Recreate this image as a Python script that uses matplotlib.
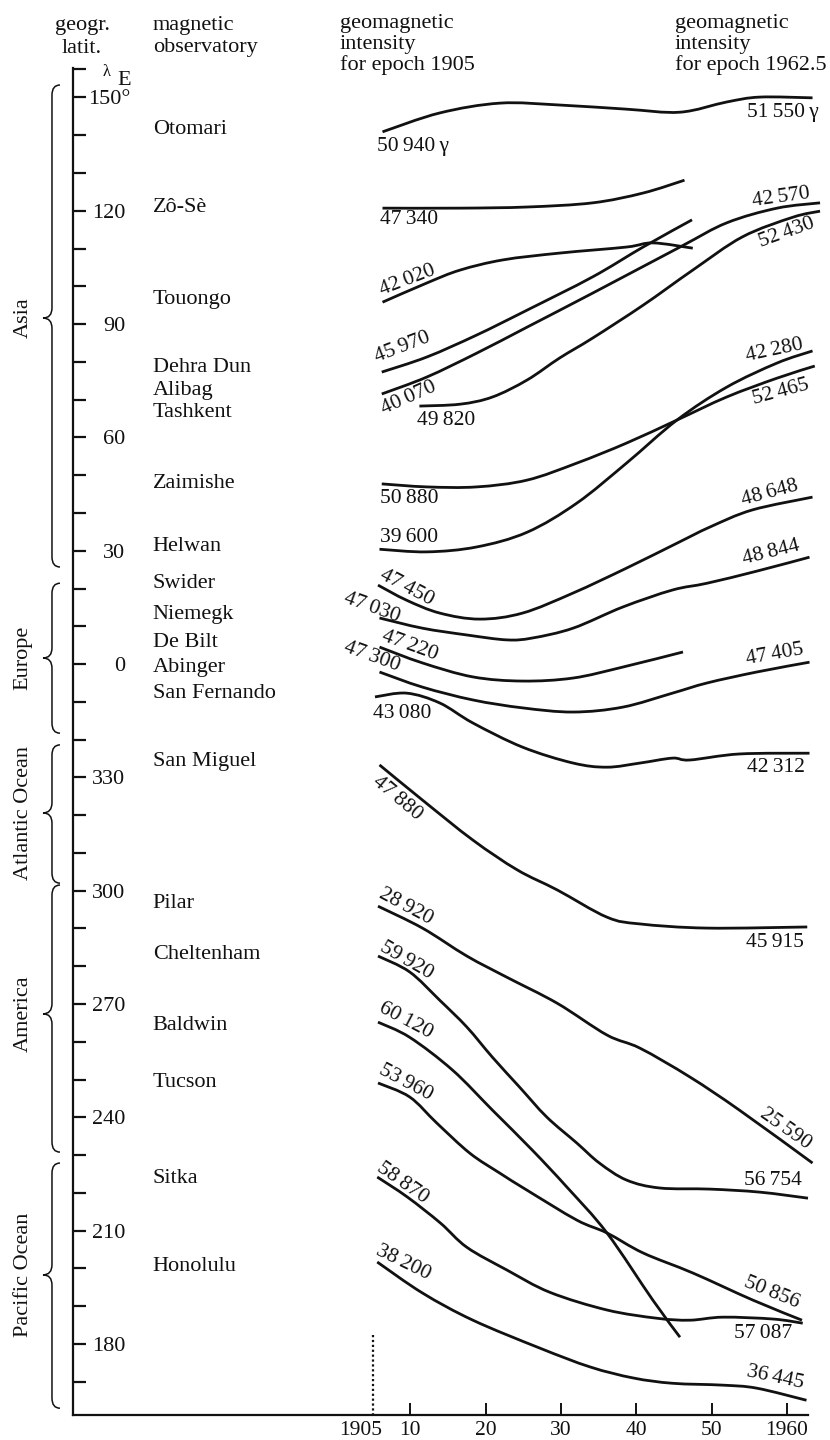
"""
Secular change of geomagnetic intensity 1905-1962.5 at magnetic observatories,
ordered by geographic longitude.
"""
import numpy as np
import matplotlib
matplotlib.use("Agg")
import matplotlib.pyplot as plt
from matplotlib.path import Path
from matplotlib.patches import PathPatch
from matplotlib import transforms

plt.rcParams['font.family'] = ['Liberation Serif', 'DejaVu Serif']

# observatories, top to bottom, and where their names sit on the longitude scale
names = ['Otomari', 'Zô-Sè', 'Touongo', 'Dehra Dun', 'Alibag', 'Tashkent',
         'Zaimishe', 'Helwan', 'Swider', 'Niemegk', 'De Bilt', 'Abinger',
         'San Fernando', 'San Miguel', 'Pilar', 'Cheltenham', 'Baldwin',
         'Tucson', 'Sitka', 'Honolulu']
name_pos = [141.4, 121.0, 96.4, 78.6, 72.5, 66.5, 47.9, 31.0, 21.4, 13.0,
            5.6, -0.8, -7.7, -25.9, -63.3, -77.0, -95.6, -110.9, -136.1, -159.6]

# intensity (gamma) for epoch 1905 and 1962.5 (None = series stops earlier)
start_vals = [50940, 47340, 42020, 45970, 40070, 49820, 50880, 39600, 47450, 47030,
              47220, 47300, 43080, 47880, 28920, 59920, 60120, 53960, 58870, 38200]
end_vals = [51550, None, None, None, 42570, 52430, 52465, 42280, 48648, 48844,
            None, 47405, 42312, 45915, 25590, 56754, None, 50856, 57087, 36445]

# curves: year vs. position on the longitude scale (0 = Greenwich, 330 E = -30)
otomari_yr = [1906.3, 1913.9, 1921.9, 1929.8, 1938.7, 1945.8, 1952.0, 1956.4, 1963.4]
otomari_pos = [140.9, 145.9, 148.5, 148.0, 146.9, 146.1, 148.8, 150.1, 149.9]
zose_yr = [1906.3, 1916.6, 1925.5, 1934.2, 1940.9, 1946.4]
zose_pos = [120.7, 120.7, 121.0, 122.1, 124.7, 128.1]
touongo_yr = [1906.3, 1912.2, 1916.6, 1922.3, 1929.8, 1938.7, 1942.2, 1947.5]
touongo_pos = [95.8, 100.9, 104.3, 107.0, 108.8, 110.4, 111.5, 110.1]
dehradun_yr = [1906.2, 1912.2, 1918.8, 1925.5, 1934.2, 1940.9, 1947.4]
dehradun_pos = [77.3, 81.3, 87.1, 93.7, 102.5, 110.4, 117.6]
alibag_yr = [1906.2, 1912.2, 1918.8, 1925.5, 1934.2, 1945.8, 1952.0, 1958.7, 1964.4]
alibag_pos = [71.5, 76.0, 82.3, 89.2, 98.2, 110.4, 116.8, 120.7, 122.1]
tashkent_yr = [1911.2, 1916.6, 1920.9, 1925.5, 1929.8, 1934.2, 1940.9, 1947.5, 1954.1, 1960.8, 1964.4]
tashkent_pos = [68.3, 68.8, 70.7, 75.2, 81.0, 86.3, 95.0, 104.3, 113.1, 118.3, 119.9]
zaimishe_yr = [1906.2, 1912.2, 1918.8, 1925.5, 1932.1, 1938.7, 1945.4, 1952.0, 1958.7, 1963.7]
zaimishe_pos = [47.7, 46.9, 46.9, 48.7, 53.2, 58.5, 64.6, 70.7, 75.7, 78.9]
helwan_yr = [1905.9, 1912.2, 1918.8, 1925.5, 1932.1, 1938.7, 1945.4, 1952.0, 1958.7, 1963.4]
helwan_pos = [30.4, 29.7, 31.0, 34.9, 42.6, 53.2, 64.6, 73.3, 79.7, 82.9]
swider_yr = [1905.7, 1909.5, 1913.9, 1919.2, 1924.9, 1931.6, 1938.7, 1945.4, 1949.8, 1955.4, 1963.4]
swider_pos = [20.9, 16.9, 13.5, 11.9, 13.5, 18.8, 25.4, 32.0, 36.3, 40.8, 44.2]
niemegk_yr = [1905.9, 1911.6, 1917.5, 1922.8, 1926.2, 1931.6, 1938.2, 1944.8, 1949.4, 1956.0, 1963.0]
niemegk_pos = [12.2, 9.5, 7.7, 6.4, 6.9, 9.5, 15.1, 19.6, 21.4, 24.6, 28.3]
debilt_yr = [1905.9, 1911.6, 1918.3, 1924.9, 1931.6, 1938.2, 1946.2]
debilt_pos = [4.5, 0.3, -3.4, -4.5, -3.7, -0.8, 3.2]
abinger_yr = [1905.9, 1911.6, 1918.3, 1924.9, 1931.6, 1938.2, 1944.8, 1949.4, 1956.0, 1963.0]
abinger_pos = [-2.1, -6.1, -9.5, -11.6, -12.7, -11.4, -7.7, -5.0, -2.1, 0.5]
sanfernando_yr = [1905.3, 1909.5, 1913.9, 1918.3, 1924.9, 1931.6, 1936.1, 1940.5, 1944.8, 1947.1, 1953.7, 1963.0]
sanfernando_pos = [-8.7, -7.7, -10.3, -15.6, -22.0, -26.2, -27.3, -26.2, -24.9, -25.4, -23.8, -23.6]
sanmiguel_yr = [1905.9, 1911.6, 1918.3, 1924.2, 1929.5, 1936.1, 1940.5, 1949.4, 1962.7]
sanmiguel_pos = [-26.7, -36.0, -46.6, -54.5, -59.8, -67.0, -68.8, -69.9, -69.6]
pilar_yr = [1905.7, 1911.6, 1917.5, 1922.8, 1929.5, 1936.1, 1940.5, 1947.1, 1953.7, 1963.4]
pilar_pos = [-64.1, -69.9, -77.3, -82.9, -89.8, -98.2, -101.7, -109.3, -118.1, -132.1]
cheltenham_yr = [1905.7, 1909.9, 1913.9, 1917.5, 1920.9, 1924.5, 1928.1, 1932.1, 1935.1,
                 1938.7, 1943.1, 1949.8, 1956.4, 1962.8]
cheltenham_pos = [-77.3, -81.5, -89.0, -96.1, -104.1, -112.0, -119.9, -126.8, -132.1,
                  -136.6, -138.7, -139.0, -139.8, -141.4]
baldwin_yr = [1905.7, 1909.9, 1915.6, 1920.9, 1926.2, 1930.8, 1936.1, 1942.2, 1945.8]
baldwin_pos = [-94.8, -98.8, -107.5, -118.1, -128.7, -138.5, -150.6, -168.4, -178.2]
tucson_yr = [1905.7, 1909.9, 1913.5, 1917.9, 1921.9, 1925.5, 1932.1, 1936.1, 1940.9, 1947.5, 1955.5, 1962.0]
tucson_pos = [-110.9, -114.6, -121.5, -129.5, -134.8, -139.3, -147.2, -150.6, -155.9, -161.2, -168.4, -173.7]
sitka_yr = [1905.6, 1909.6, 1914.0, 1917.5, 1922.8, 1928.5, 1936.1, 1942.8, 1947.1, 1951.5, 1958.2, 1962.1]
sitka_pos = [-135.8, -141.1, -148.0, -154.4, -160.4, -166.3, -171.0, -173.2, -173.7, -172.9, -173.4, -174.5]
honolulu_yr = [1905.6, 1911.6, 1918.3, 1927.2, 1933.9, 1939.6, 1944.8, 1951.5, 1956.0, 1962.6]
honolulu_pos = [-158.3, -166.5, -173.7, -181.1, -186.1, -189.0, -190.4, -190.9, -191.7, -194.9]

curves = [(otomari_yr, otomari_pos), (zose_yr, zose_pos), (touongo_yr, touongo_pos),
          (dehradun_yr, dehradun_pos), (alibag_yr, alibag_pos), (tashkent_yr, tashkent_pos),
          (zaimishe_yr, zaimishe_pos), (helwan_yr, helwan_pos), (swider_yr, swider_pos),
          (niemegk_yr, niemegk_pos), (debilt_yr, debilt_pos), (abinger_yr, abinger_pos),
          (sanfernando_yr, sanfernando_pos), (sanmiguel_yr, sanmiguel_pos), (pilar_yr, pilar_pos),
          (cheltenham_yr, cheltenham_pos), (baldwin_yr, baldwin_pos), (tucson_yr, tucson_pos),
          (sitka_yr, sitka_pos), (honolulu_yr, honolulu_pos)]

# longitude scale ticks; 330..180 E are drawn below 0
tick_pos = list(range(150, -191, -10))
tick_text = {150: '150°', 120: '120', 90: '90', 60: '60', 30: '30', 0: '0',
             -30: '330', -60: '300', -90: '270', -120: '240', -150: '210', -180: '180'}
year_ticks = [1905, 1910, 1920, 1930, 1940, 1950, 1960]
year_text = ['1905', '10', '20', '30', '40', '50', '1960']

# continents / oceans as (name, top, bottom, cusp) on the scale
regions = ['Asia', 'Europe', 'Atlantic Ocean', 'America', 'Pacific Ocean']
region_top = [153.3, 21.4, -21.4, -58.5, -132.1]
region_bot = [25.7, -18.3, -58.0, -129.2, -197.0]
region_mid = [91.6, 1.6, -39.4, -92.6, -161.7]

# label placement: (year, pos, rotation)
start_lbl = [(1910.4, 136.9, 0), (1909.8, 117.6, 0), (1909.6, 101.7, 21), (1909.0, 83.9, 21),
             (1909.8, 70.4, 24), (1914.7, 64.6, 0), (1909.8, 43.9, 0), (1909.8, 33.6, 0),
             (1909.5, 20.1, -28), (1904.9, 14.8, -20), (1909.9, 4.8, -20), (1904.9, 1.9, -20),
             (1908.9, -13.0, 0), (1908.2, -35.5, -40), (1909.4, -64.3, -28), (1909.5, -78.6, -30),
             (1909.4, -94.5, -28), (1909.4, -110.9, -28), (1909.0, -137.4, -35), (1909.1, -158.6, -26)]
end_lbl = [(1959.4, 145.9, 0), None, None, None, (1959.2, 123.4, 8), (1960.0, 114.1, 20),
           (1959.2, 72.0, 15), (1958.3, 83.1, 12), (1957.7, 45.3, 15), (1957.9, 29.4, 14),
           None, (1958.4, 2.4, 10), (1958.5, -27.3, 0), (1958.4, -73.6, 0), (1959.8, -123.1, -35),
           (1958.1, -136.6, 0), None, (1958.0, -166.5, -22), (1956.9, -177.1, 0), (1958.5, -189.0, -12)]

FS = 16
NUM_FS = 15.5
INK = '#111111'


def smooth_path(xs, ys):
    """Catmull-Rom curve through the points, as cubic Bezier segments."""
    pts = np.column_stack([xs, ys]).astype(float)
    n = len(pts)
    verts = [pts[0]]
    codes = [Path.MOVETO]
    for i in range(n - 1):
        p0 = pts[i - 1] if i > 0 else pts[i]
        p1, p2 = pts[i], pts[i + 1]
        p3 = pts[i + 2] if i + 2 < n else pts[i + 1]
        verts += [p1 + (p2 - p0) / 6, p2 - (p3 - p1) / 6, p2]
        codes += [Path.CURVE4] * 3
    return Path(verts, codes)


def fmt(v, gamma=False):
    s = '{}\u2009{:03d}'.format(v // 1000, v % 1000)
    return s + '\u2009γ' if gamma else s


def draw_brace(ax, top, bot, mid, xv=-0.0286, xc=-0.0408, xe=-0.0177, r=2.7):
    trans = transforms.blended_transform_factory(ax.transAxes, ax.transData)
    verts = [(xe, top), (xv, top), (xv, top - r),
             (xv, mid + r),
             (xv, mid), (xc, mid),
             (xv, mid), (xv, mid - r),
             (xv, bot + r),
             (xv, bot), (xe, bot)]
    codes = [Path.MOVETO, Path.CURVE3, Path.CURVE3,
             Path.LINETO,
             Path.CURVE3, Path.CURVE3,
             Path.CURVE3, Path.CURVE3,
             Path.LINETO,
             Path.CURVE3, Path.CURVE3]
    ax.add_patch(PathPatch(Path(verts, codes), transform=trans, fill=False,
                           lw=1.1, ec=INK, clip_on=False))


fig = plt.figure(figsize=(8.3, 14.4), dpi=100)
ax = fig.add_axes([73 / 830, 1 - 1415 / 1440, 735 / 830, 1347 / 1440])
ax.set_xlim(1865.2, 1962.8)
ax.set_ylim(-198.8, 157.8)

for s in ['top', 'right']:
    ax.spines[s].set_visible(False)
for s in ['left', 'bottom']:
    ax.spines[s].set_linewidth(1.6)
    ax.spines[s].set_color(INK)

# longitude scale, labels to the right of the inward ticks
ax.set_yticks([157.6] + tick_pos)
ax.set_yticklabels([''] + [tick_text.get(t, '') for t in tick_pos])
ax.tick_params(axis='y', direction='in', length=9.5, width=1.6, color=INK,
               pad=-37.8, labelsize=FS, labelcolor=INK)
# the degree sign hangs past the column of numbers
top_lbl = ax.get_yticklabels()[1]
top_lbl.set_transform(top_lbl.get_transform() + transforms.ScaledTranslation(0.05, 0, fig.dpi_scale_trans))

ax.set_xticks(year_ticks)
ax.set_xticklabels(year_text)
ax.tick_params(axis='x', direction='in', length=8.5, width=1.4, color=INK,
               pad=4, labelsize=FS - 0.5, labelcolor=INK)
ax.xaxis.get_major_ticks()[0].tick1line.set_visible(False)
lbl = ax.get_xticklabels()[0]
lbl.set_transform(lbl.get_transform() + transforms.ScaledTranslation(-0.12, 0, fig.dpi_scale_trans))

# epoch 1905 marker
ax.plot([1905, 1905], [-177.7, -198.8], ls=(0, (1, 1.2)), lw=1.6, color=INK, clip_on=False)

for (yr, pos) in curves:
    ax.add_patch(PathPatch(smooth_path(yr, pos), fill=False, lw=2.0, ec=INK,
                           capstyle='butt', clip_on=False))

for i, name in enumerate(names):
    ax.text(1875.8, name_pos[i], name, fontsize=FS, ha='left', va='center', color=INK)
    x, y, rot = start_lbl[i]
    ax.text(x, y, fmt(start_vals[i], gamma=(i == 0)), fontsize=NUM_FS, rotation=rot,
            rotation_mode='anchor', ha='center', va='center', color=INK)
    if end_lbl[i] is not None:
        x, y, rot = end_lbl[i]
        ax.text(x, y, fmt(end_vals[i], gamma=(i == 0)), fontsize=NUM_FS, rotation=rot,
                rotation_mode='anchor', ha='center', va='center', color=INK)

for i, reg in enumerate(regions):
    draw_brace(ax, region_top[i], region_bot[i], region_mid[i])
    ax.text(-0.068, region_mid[i], reg, transform=transforms.blended_transform_factory(ax.transAxes, ax.transData),
            rotation=90, fontsize=FS, ha='center', va='center', color=INK)

ax.text(1869.6, 156.7, 'λ', fontsize=12, ha='center', va='center', color=INK, clip_on=False)
ax.text(1872.0, 154.6, 'E', fontsize=FS, ha='center', va='center', color=INK, clip_on=False)

# column headings
def heading(x, lines, baselines, ha='left'):
    for line, yb in zip(lines, baselines):
        fig.text(x / 830, 1 - yb / 1440, line, fontsize=FS, ha=ha, va='baseline', color=INK)

heading(82, ['geogr.', 'latit.'], [30, 53], ha='center')
heading(153, ['magnetic', 'observatory'], [30, 52])
heading(340, ['geomagnetic', 'intensity', 'for epoch 1905'], [28, 49, 70])
heading(675, ['geomagnetic', 'intensity', 'for epoch 1962.5'], [28, 49, 70])

fig.savefig('out.png', dpi=100)
